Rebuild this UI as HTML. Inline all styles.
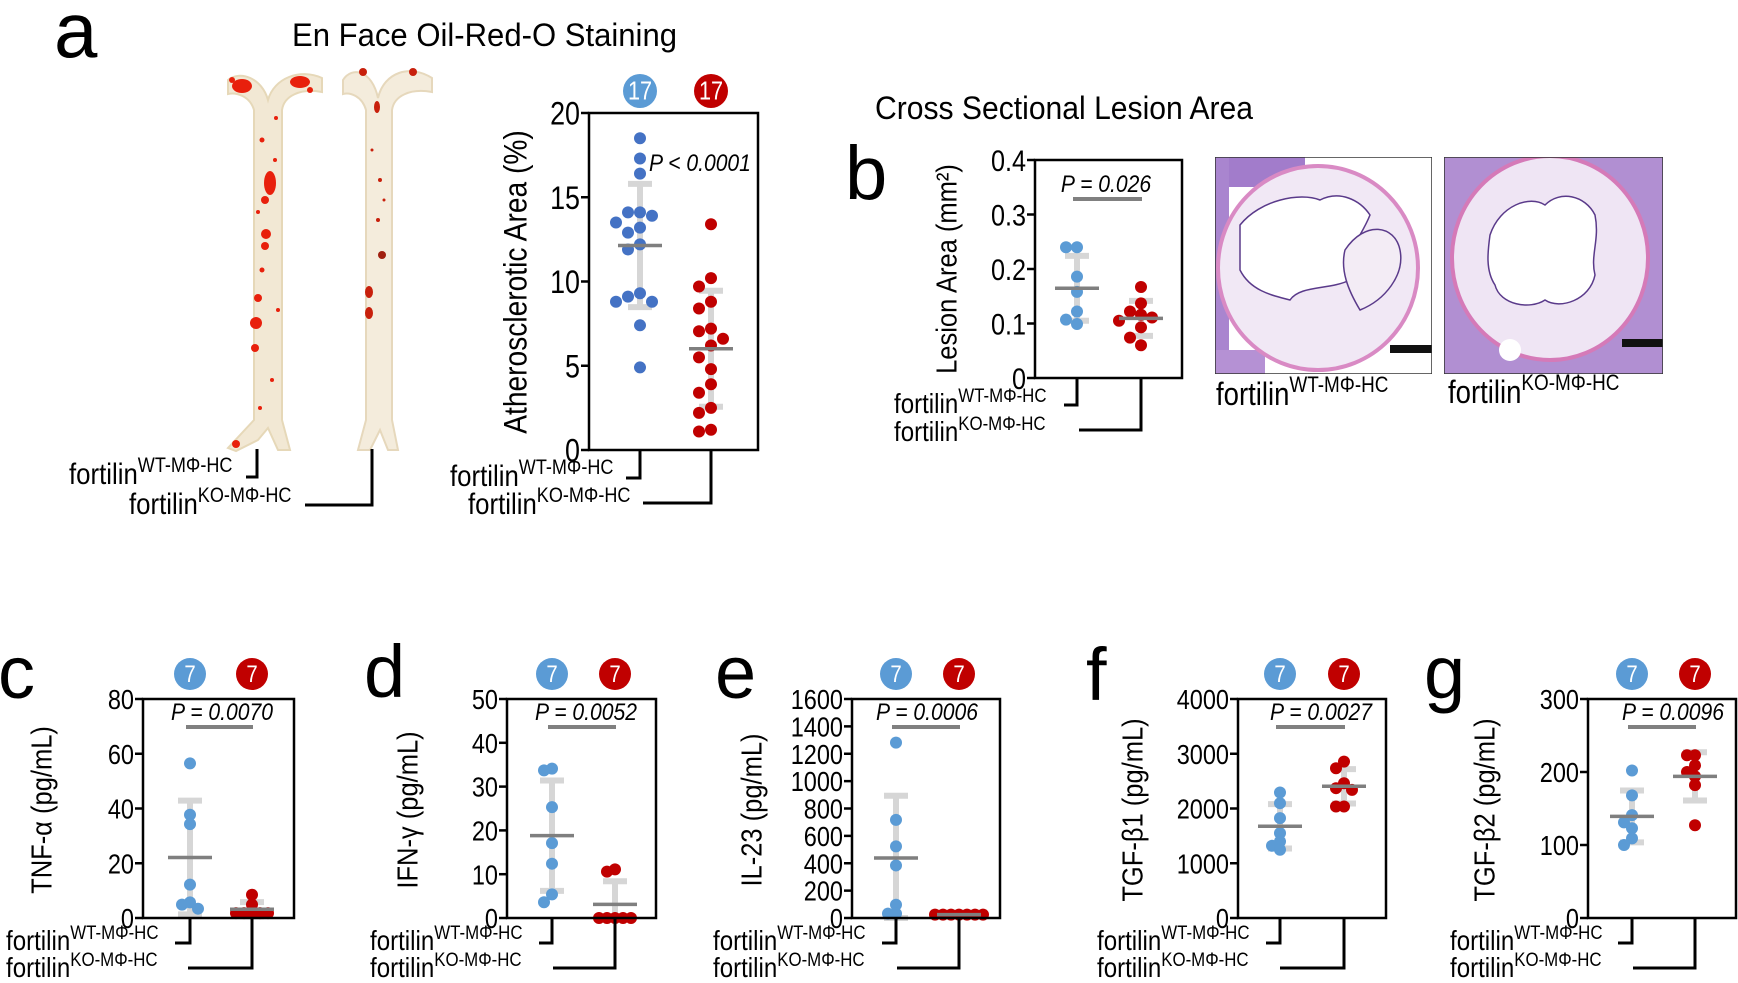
<!DOCTYPE html>
<html><head><meta charset="utf-8"><style>
html,body{margin:0;padding:0;background:#fff;}
svg{display:block;font-family:"Liberation Sans",Arial,sans-serif;}
</style></head><body>
<svg id="fig" width="1738" height="983" viewBox="0 0 1738 983" xmlns="http://www.w3.org/2000/svg">
<rect x="0" y="0" width="1738" height="983" fill="#fff"/>
<text x="54" y="57" font-size="78">a</text>
<text x="292" y="46" font-size="32" textLength="385" lengthAdjust="spacingAndGlyphs">En Face Oil-Red-O Staining</text>
<text x="845" y="199" font-size="76">b</text>
<text x="875" y="119" font-size="32" textLength="378" lengthAdjust="spacingAndGlyphs">Cross Sectional Lesion Area</text>
<text x="-2" y="698" font-size="74">c</text>
<text x="364" y="697" font-size="74">d</text>
<text x="715" y="698" font-size="74">e</text>
<text x="1086" y="700" font-size="74">f</text>
<text x="1424" y="698" font-size="74">g</text>

<g>
  <path d="M228,80 C240,70 262,78 268,100 C274,78 300,68 322,78 L322,92 C300,88 284,96 282,110 L282,420 L290,450 L278,450 L268,428 L258,440 L236,451 L228,448 L254,420 L254,110 C250,96 236,92 228,94 Z" fill="#f2e8d4" stroke="#e6d8b8" stroke-width="2"/>
  <ellipse cx="242" cy="86" rx="10" ry="7" fill="#e8200c"/>
  <ellipse cx="300" cy="82" rx="10" ry="6" fill="#e8200c"/>
  <circle cx="232" cy="80" r="3" fill="#e8200c"/>
  <circle cx="310" cy="90" r="3" fill="#e8200c"/>
  <ellipse cx="270" cy="183" rx="6" ry="12" fill="#e8200c"/>
  <circle cx="265" cy="200" r="4" fill="#e8200c"/>
  <circle cx="266" cy="234" r="5" fill="#e8200c"/>
  <circle cx="265" cy="246" r="4" fill="#e8200c"/>
  <circle cx="258" cy="298" r="4" fill="#e8200c"/>
  <circle cx="256" cy="323" r="6" fill="#e8200c"/>
  <circle cx="255" cy="348" r="4" fill="#e8200c"/>
  <circle cx="236" cy="444" r="4" fill="#e8200c"/>
  <circle cx="262" cy="140" r="2.5" fill="#e8200c"/>
  <circle cx="275" cy="160" r="2" fill="#e8200c"/>
  <circle cx="262" cy="270" r="2.5" fill="#e8200c"/>
  <circle cx="272" cy="380" r="2" fill="#e8200c"/>
  <circle cx="258" cy="212" r="2" fill="#e8200c"/>
  <circle cx="276" cy="118" r="2" fill="#e8200c"/>
  <circle cx="260" cy="408" r="2" fill="#e8200c"/>
  <circle cx="278" cy="310" r="2" fill="#e8200c"/>
</g>
<g>
  <path d="M343,80 C352,66 372,70 378,98 C384,72 410,64 432,78 L432,92 C410,88 394,96 392,110 L392,420 L398,450 L388,450 L380,430 L370,450 L358,450 L366,420 L366,110 C362,96 350,92 343,94 Z" fill="#f4ecdc" stroke="#e6d8bc" stroke-width="2"/>
  <circle cx="363" cy="72" r="4" fill="#c8200c"/>
  <circle cx="413" cy="72" r="4" fill="#c8200c"/>
  <ellipse cx="377" cy="107" rx="3" ry="6" fill="#c8200c"/>
  <circle cx="382" cy="255" r="4" fill="#a02010"/>
  <ellipse cx="369" cy="292" rx="4" ry="6" fill="#c8200c"/>
  <ellipse cx="369" cy="313" rx="4" ry="6" fill="#c8200c"/>
  <circle cx="380" cy="180" r="2" fill="#c8200c"/>
  <circle cx="378" cy="220" r="2" fill="#c8200c"/>
  <circle cx="372" cy="150" r="1.5" fill="#c8200c"/>
  <circle cx="384" cy="200" r="1.5" fill="#c8200c"/>
</g>
<g>
  <text transform="translate(69,484) scale(0.86,1)" font-size="30">fortilin<tspan font-size="21" dy="-12">WT-MΦ-HC</tspan></text>
  <path d="M257,449 V477 H246" fill="none" stroke="#000" stroke-width="3"/>
  <text transform="translate(129,514) scale(0.86,1)" font-size="30">fortilin<tspan font-size="21" dy="-12">KO-MΦ-HC</tspan></text>
  <path d="M372,449 V505 H305" fill="none" stroke="#000" stroke-width="3"/>
</g>

<defs>
  <clipPath id="clipL"><rect x="1215" y="157" width="217" height="217"/></clipPath>
  <clipPath id="clipR"><rect x="1444" y="157" width="219" height="217"/></clipPath>
</defs>
<g clip-path="url(#clipL)">
  <rect x="1215" y="157" width="217" height="217" fill="#fff"/>
  <rect x="1215" y="157" width="90" height="30" fill="#a27ccb"/>
  <rect x="1215" y="157" width="14" height="217" fill="#a985cf"/>
  <rect x="1215" y="350" width="50" height="24" fill="#b591d4"/>
  <ellipse cx="1318" cy="268" rx="100" ry="102" fill="#f1e8f5" stroke="#d98ac4" stroke-width="4"/>
  <path d="M1240,225 C1260,200 1300,192 1320,200 C1340,190 1360,200 1370,215 C1360,240 1345,250 1350,280 C1330,290 1300,285 1290,300 C1270,295 1250,290 1240,270 Z" fill="#fff" stroke="#5a3a8a" stroke-width="1.5"/>
  <path d="M1345,250 C1365,220 1395,225 1400,250 C1405,275 1385,300 1360,310 C1348,290 1340,270 1345,250 Z" fill="#f3ecf5" stroke="#5a3a8a" stroke-width="1.5"/>
  <rect x="1390" y="345" width="42" height="8" fill="#111"/>
  <rect x="1215" y="157" width="217" height="217" fill="none" stroke="#333" stroke-width="1.5"/>
</g>
<g clip-path="url(#clipR)">
  <rect x="1444" y="157" width="219" height="217" fill="#b18fd2"/>
  <ellipse cx="1550" cy="258" rx="98" ry="102" fill="#efe5f4" stroke="#d57ab8" stroke-width="4"/>
  <path d="M1490,235 C1500,205 1530,195 1545,205 C1560,190 1585,195 1595,215 C1600,240 1590,255 1595,275 C1590,300 1560,310 1545,300 C1530,310 1500,305 1495,285 C1485,270 1488,250 1490,235 Z" fill="#fff" stroke="#5a3a8a" stroke-width="1.5"/>
  <circle cx="1510" cy="350" r="11" fill="#fff"/>
  <rect x="1622" y="339" width="41" height="8" fill="#111"/>
  <rect x="1444" y="157" width="219" height="217" fill="none" stroke="#333" stroke-width="1.5"/>
</g>
<text transform="translate(1216,405) scale(0.86,1)" font-size="32">fortilin<tspan font-size="22" dy="-13">WT-MΦ-HC</tspan></text>
<text transform="translate(1448,403) scale(0.86,1)" font-size="32">fortilin<tspan font-size="22" dy="-13">KO-MΦ-HC</tspan></text>
</svg>
<script>
const aWT=[18.5,17.3,16.4,14.1,14.1,13.9,13.5,13.2,12.9,12.2,11.9,9.3,9.1,8.8,8.8,7.4,4.9];
const aKO=[13.4,10.2,9.7,8.8,8.4,7.2,7.05,6.6,6.2,5.5,4.8,3.9,3.4,2.5,2.2,1.2,1.1];
const bWT=[0.24,0.24,0.186,0.158,0.122,0.107,0.099];
const bKO=[0.167,0.137,0.122,0.116,0.111,0.105,0.093,0.074,0.060];
const cWT=[56.5,37.7,34.3,12.2,5.7,4.9,3.4];
const cKO=[8.5,4.9,1.8,1.8,1.8,1.8,1.8];
const dWT=[34.1,33.7,25.3,17.1,12.4,5.4,3.6];
const dKO=[11.1,10.6,0,0,0,0,0];
const eWT=[1281,717,523,384,97,32,32];
const eKO=[25,25,25,25,25,25,25];
const fWT=[2292,2097,1824,1550,1398,1319,1246];
const fKO=[2857,2736,2462,2371,2340,2036,2036];
const gWT=[202,168,141,131,123,109,100];
const gKO=[223,223,209,200,194,182,127];
const aTicks=[0,5,10,15,20];
const bTicks=[0,0.1,0.2,0.3,0.4];
const bTickLabels=["0","0.1","0.2","0.3","0.4"];
const cTicks=[0,20,40,60,80];
const dTicks=[0,10,20,30,40,50];
const eTicks=[0,200,400,600,800,1000,1200,1400,1600];
const fTicks=[0,1000,2000,3000,4000];
const gTicks=[0,100,200,300];
const pValues=["P < 0.0001","P = 0.026","P = 0.0070","P = 0.0052","P = 0.0006","P = 0.0027","P = 0.0096"];
const groupN=[17,17,7,7,7,7,7,7,7,7,7,7];

const NS='http://www.w3.org/2000/svg';
const svg=document.getElementById('fig');
const SQ=0.84;
function mk(tag,attrs,parent){const e=document.createElementNS(NS,tag);for(const k in attrs)e.setAttribute(k,attrs[k]);(parent||svg).appendChild(e);return e;}
function mean(a){return a.reduce((s,v)=>s+v,0)/a.length;}
function sd(a){const m=mean(a);return Math.sqrt(a.reduce((s,v)=>s+(v-m)*(v-m),0)/(a.length-1));}

function panel(c,wt,ko,ticks,tickLabels,pText,nWT,nKO){
  const g=mk('g',{});
  
  
  const y=v=>c.y1-(Math.max(c.min,Math.min(c.max,v))-c.min)/(c.max-c.min)*(c.y1-c.y0);
  ticks.forEach((t,i)=>{
    const tl=mk('line',{x1:c.x0-8,x2:c.x0,y1:y(t),y2:y(t),stroke:'#000','stroke-width':2.5},g);
    
    
    const tx=mk('text',{transform:`translate(${c.x0-9},${y(t)+c.tfs*0.36}) scale(${SQ},1)`,'font-size':c.tfs,'text-anchor':'end'},g);
    tx.textContent=tickLabels?tickLabels[i]:String(t);
    
    
  });
  const yt=mk('text',{transform:`translate(${c.tx},${c.ty}) rotate(-90) scale(${SQ+0.04},1)`,'font-size':c.yfs,'text-anchor':'middle','dominant-baseline':'middle'},g);
  yt.textContent=c.title;
  
  
  if(c.badgeY){
    [[c.xb,'#5b9bd5',nWT],[c.xr,'#c00000',nKO]].forEach(([bx,col,n])=>{
      const ci=mk('circle',{cx:bx,cy:c.badgeY,r:c.br,fill:col},g);
      
      
      const bt=mk('text',{transform:`translate(${bx},${c.badgeY+c.br*0.5}) scale(0.85,1)`,'font-size':c.br*1.5,'text-anchor':'middle',fill:'#fff'},g);
      bt.textContent=String(n);
      
      
    });
  }
  const pt=mk('text',{transform:`translate(${c.px},${c.py}) scale(0.88,1)`,'font-size':24,'font-style':'italic','text-anchor':c.panchor||'middle'},g);
  pt.textContent=pText;
  
  
  if(c.pline){
    const pl=mk('line',{x1:c.xb-4,x2:c.xr+1,y1:c.py+7,y2:c.py+7,stroke:'#808080','stroke-width':4},g);
    
    
  }
  [[wt,c.xb,c.blue,'wt'],[ko,c.xr,'#c00000','ko']].forEach(([vals,gx,col,key])=>{
    const m=mean(vals),s=sd(vals);
    const eb=mk('path',{d:`M${gx},${y(m+s)}V${y(m-s)}M${gx-12},${y(m+s)}H${gx+12}M${gx-12},${y(m-s)}H${gx+12}`,stroke:'#d6d6d6','stroke-width':6,fill:'none'},g);
    
    
    const placed=[];
    const sorted=vals.slice().sort((p,q)=>q-p);
    sorted.forEach(v=>{
      const py=y(v);
      let off=0;
      for(let k=0;k<12;k++){
        const cand=(k===0?0:(k%2?-1:1)*Math.ceil(k/2)*c.step);
        if(placed.every(p=>Math.hypot(p[0]-(gx+cand),p[1]-py)>=c.step-0.1)){off=cand;break;}
      }
      placed.push([gx+off,py]);
      const d=mk('circle',{cx:gx+off,cy:py,r:c.r,fill:col},g);
      
      
    });
    const ml=mk('line',{x1:gx-22,x2:gx+22,y1:y(m),y2:y(m),stroke:'#7f7f7f','stroke-width':3.5},g);
    
    
  });
  const bx=mk('rect',{x:c.x0,y:c.y0,width:c.x1-c.x0,height:c.y1-c.y0,fill:'none',stroke:'#000','stroke-width':2.5},g);
  
  
  const l1=mk('text',{transform:`translate(${c.lx},${c.wtBase}) scale(0.86,1)`,'font-size':c.lfs},g);
  l1.innerHTML=`fortilin<tspan font-size="${c.lfs*0.7}" dy="-${c.lfs*0.4}">WT-MΦ-HC</tspan>`;
  
  
  const l2=mk('text',{transform:`translate(${c.lx2},${c.koBase}) scale(0.86,1)`,'font-size':c.lfs},g);
  l2.innerHTML=`fortilin<tspan font-size="${c.lfs*0.7}" dy="-${c.lfs*0.4}">KO-MΦ-HC</tspan>`;
  
  
  const b1=mk('path',{d:`M${c.xb},${c.y1}V${c.wtY}H${c.wtEnd}`,stroke:'#000','stroke-width':3,fill:'none'},g);
  
  
  const b2=mk('path',{d:`M${c.xr},${c.y1}V${c.koY}H${c.koStart}`,stroke:'#000','stroke-width':3,fill:'none'},g);
  
  
}

panel({name:'panel-a-atherosclerotic-area',x0:589,x1:758,y0:113,y1:450,min:0,max:20,tfs:32,tx:518,ty:282,yfs:32,title:'Atherosclerotic Area (%)',badgeY:91,br:17,xb:640,xr:711,blue:'#4472c4',r:6,step:12,px:649,py:171,panchor:'start',pline:false,lx:450,wtBase:486,lx2:468,koBase:514,lfs:30,wtY:478,wtEnd:626,koY:503,koStart:643},aWT,aKO,aTicks,null,pValues[0],groupN[0],groupN[1]);
panel({name:'panel-b-lesion-area',x0:1035,x1:1182,y0:160,y1:378,min:0,max:0.4,tfs:30,tx:949,ty:269,yfs:29,title:'Lesion Area (mm²)',badgeY:0,xb:1077,xr:1141,blue:'#5b9bd5',r:6,step:11,px:1106,py:192,pline:true,lx:894,wtBase:413,lx2:894,koBase:441,lfs:28,wtY:405,wtEnd:1064,koY:430,koStart:1079},bWT,bKO,bTicks,bTickLabels,pValues[1],0,0);
const bottom=(o)=>Object.assign({y0:699,y1:918,min:0,tfs:28,ty:810,yfs:29,badgeY:674,br:16,blue:'#5b9bd5',r:6,step:8,py:720,pline:true,wtBase:950,koBase:977,lfs:28,wtY:943,koY:968},o);
panel(bottom({name:'panel-c-tnf-alpha',x0:143,x1:294,max:80,tx:44,title:'TNF-α (pg/mL)',xb:190,xr:252,px:222,lx:6,lx2:6,wtEnd:175,koStart:188}),cWT,cKO,cTicks,null,pValues[2],groupN[2],groupN[3]);
panel(bottom({name:'panel-d-ifn-gamma',x0:507,x1:656,max:50,tx:410,title:'IFN-γ (pg/mL)',xb:552,xr:615,px:586,lx:370,lx2:370,wtEnd:539,koStart:553}),dWT,dKO,dTicks,null,pValues[3],groupN[4],groupN[5]);
panel(bottom({name:'panel-e-il23',x0:852,x1:1000,max:1600,tx:754,title:'IL-23 (pg/mL)',xb:896,xr:959,px:927,lx:713,lx2:713,wtEnd:882,koStart:897}),eWT,eKO,eTicks,null,pValues[4],groupN[6],groupN[7]);
panel(bottom({name:'panel-f-tgf-beta1',x0:1238,x1:1386,max:4000,tx:1135,title:'TGF-β1 (pg/mL)',xb:1280,xr:1344,px:1321,lx:1097,lx2:1097,wtEnd:1266,koStart:1280}),fWT,fKO,fTicks,null,pValues[5],groupN[8],groupN[9]);
panel(bottom({name:'panel-g-tgf-beta2',x0:1588,x1:1736,max:300,tx:1487,title:'TGF-β2 (pg/mL)',xb:1632,xr:1695,px:1673,lx:1450,lx2:1450,wtEnd:1618,koStart:1633}),gWT,gKO,gTicks,null,pValues[6],groupN[10],groupN[11]);
</script>
</body></html>
